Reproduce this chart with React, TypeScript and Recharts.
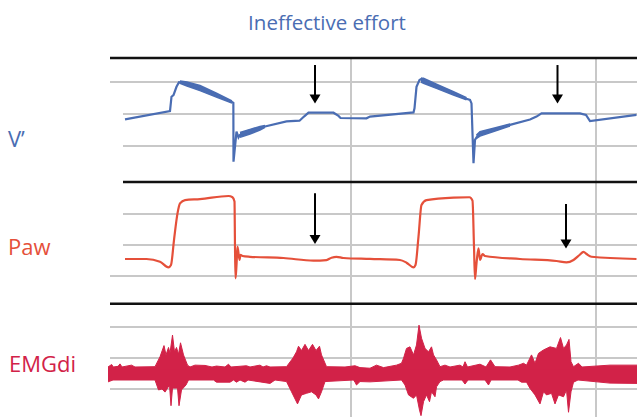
import React from 'react';
import { ComposedChart, Line, Area, XAxis, YAxis, ReferenceLine } from 'recharts';

// time in seconds, values in panel units
const flowPoints: [number, number][] = [
  [0.30, -0.17], [1.20, 0.09], [1.23, 0.54], [1.27, 0.59], [1.33, 0.85], [1.38, 0.99],
  [1.42, 0.98], [1.54, 0.94], [1.80, 0.81], [2.14, 0.58], [2.44, 0.375], [2.467, 0.35],
  [2.47, -1.49], [2.53, -0.55], [2.57, -0.73], [2.60, -0.655], [2.80, -0.55], [3.00, -0.445],
  [3.10, -0.39], [3.53, -0.23], [3.79, -0.21], [3.88, -0.08], [3.97, 0.04], [4.47, 0.04],
  [4.57, -0.06], [4.61, -0.125], [5.13, -0.135], [5.20, -0.08], [6.07, 0.05], [6.09, 0.18],
  [6.13, 0.85], [6.19, 1.06], [6.23, 1.10], [6.27, 1.04], [6.53, 0.865], [6.87, 0.645],
  [7.13, 0.475], [7.20, 0.44], [7.23, 0.33], [7.27, -1.54], [7.30, -0.81], [7.33, -0.73],
  [7.40, -0.62], [7.73, -0.47], [8.00, -0.34], [8.40, -0.17], [8.53, -0.08], [8.63, 0.02],
  [9.40, 0.02], [9.52, -0.03], [9.60, -0.22], [10.53, -0.03],
];

const flowBands: [number, number, number][][] = [
  [[1.40, 0.96, 1.03], [1.54, 0.875, 1.0], [1.80, 0.73, 0.89], [2.14, 0.52, 0.64], [2.44, 0.34, 0.41]],
  [[2.60, -0.73, -0.58], [2.80, -0.625, -0.48], [3.00, -0.50, -0.39], [3.10, -0.42, -0.36]],
  [[6.22, 1.0, 1.12], [6.27, 0.96, 1.115], [6.53, 0.80, 0.93], [6.87, 0.59, 0.70], [7.13, 0.44, 0.51]],
  [[7.33, -0.76, -0.66], [7.40, -0.69, -0.55], [7.73, -0.52, -0.42], [8.00, -0.375, -0.31]],
];

const pawPoints: [number, number][] = [
  [0.30, 5.48], [0.73, 5.48], [1.00, 4.6], [1.17, 2.8], [1.22, 3.55], [1.28, 11.6], [1.35, 20.2],
  [1.40, 23.4], [1.50, 24.5], [1.80, 24.8], [2.37, 25.8], [2.45, 25.4], [2.49, 24.0], [2.50, 9.5],
  [2.51, -0.75], [2.53, 3.5], [2.55, 9.5], [2.59, 5.2], [2.61, 6.8], [2.65, 6.45], [2.80, 6.2],
  [3.47, 5.8], [4.07, 4.95], [4.33, 5.15], [4.43, 5.9], [4.53, 6.2], [4.67, 5.8], [5.20, 5.5],
  [5.80, 5.16], [5.93, 4.3], [6.07, 2.8], [6.11, 3.55], [6.17, 12.7], [6.23, 22.9], [6.33, 24.5],
  [6.87, 25.3], [7.19, 25.4], [7.25, 24.3], [7.28, 9.5], [7.30, -0.97], [7.33, 4.1], [7.37, 8.9],
  [7.40, 5.2], [7.45, 7.1], [7.50, 6.45], [8.20, 5.48], [8.93, 4.84], [9.13, 4.4], [9.27, 5.16],
  [9.39, 6.77], [9.47, 7.8], [9.53, 7.1], [9.63, 6.2], [10.53, 5.48],
];

const emgUpper: [number, number][] = [
  [-0.04, 0.21], [0.033, 0.29], [0.067, 0.21], [0.16, 0.23], [0.2, 0.31], [0.24, 0.21], [0.43, 0.27],
  [0.5, 0.21], [0.9, 0.22], [1.0, 0.54], [1.08, 0.9], [1.12, 0.6], [1.17, 0.84], [1.2, 0.66],
  [1.25, 1.24], [1.29, 0.7], [1.33, 0.84], [1.37, 0.62], [1.41, 0.99], [1.47, 0.6], [1.55, 0.27],
  [1.6, 0.21], [1.7, 0.27], [1.9, 0.26], [2.04, 0.21], [2.13, 0.24], [2.3, 0.21], [2.37, 0.3],
  [2.42, 0.21], [2.73, 0.25], [2.8, 0.21], [3.0, 0.27], [3.06, 0.21], [3.13, 0.25], [3.2, 0.21],
  [3.53, 0.22], [3.66, 0.5], [3.73, 0.7], [3.77, 0.88], [3.83, 0.74], [3.9, 0.94], [3.97, 0.74],
  [4.05, 0.94], [4.12, 0.74], [4.19, 0.88], [4.23, 0.6], [4.33, 0.22], [4.7, 0.21], [4.9, 0.25],
  [5.0, 0.19], [5.2, 0.17], [5.33, 0.27], [5.47, 0.19], [5.73, 0.27], [5.83, 0.33], [5.87, 0.49],
  [5.93, 0.81], [6.0, 0.86], [6.07, 0.6], [6.13, 0.92], [6.18, 1.56], [6.23, 1.14], [6.3, 0.81],
  [6.37, 0.7], [6.43, 0.86], [6.47, 0.6], [6.53, 0.44], [6.6, 0.22], [6.7, 0.27], [6.8, 0.21],
  [7.0, 0.27], [7.06, 0.21], [7.1, 0.38], [7.15, 0.21], [7.4, 0.3], [7.52, 0.21], [7.61, 0.44],
  [7.7, 0.22], [8.0, 0.21], [8.17, 0.27], [8.27, 0.33], [8.33, 0.27], [8.43, 0.6], [8.5, 0.33],
  [8.57, 0.65], [8.67, 0.76], [8.8, 0.86], [8.93, 0.81], [9.01, 1.16], [9.07, 0.81], [9.13, 0.92],
  [9.18, 1.1], [9.22, 0.38], [9.27, 0.22], [9.37, 0.33], [9.44, 0.21], [10.0, 0.27], [10.4, 0.27],
  [10.54, 0.27],
];

const emgLower: [number, number][] = [
  [-0.04, -0.27], [0.06, -0.21], [0.9, -0.21], [0.97, -0.53], [1.04, -0.5], [1.1, -0.6], [1.19, -0.37],
  [1.22, -1.04], [1.25, -0.47], [1.35, -0.47], [1.38, -1.04], [1.43, -0.53], [1.52, -0.37],
  [1.57, -0.21], [2.07, -0.21], [2.13, -0.28], [2.4, -0.28], [2.47, -0.21], [2.53, -0.28],
  [2.6, -0.21], [2.7, -0.28], [2.76, -0.21], [3.2, -0.32], [3.3, -0.21], [3.53, -0.26],
  [3.63, -0.59], [3.75, -0.98], [3.83, -0.69], [3.93, -0.64], [4.03, -0.59], [4.12, -0.69],
  [4.17, -0.82], [4.23, -0.59], [4.3, -0.26], [4.87, -0.21], [4.9, -0.28], [4.93, -0.37],
  [5.0, -0.26], [5.2, -0.27], [5.83, -0.21], [5.9, -0.37], [5.97, -0.69], [6.07, -0.8],
  [6.13, -0.69], [6.19, -1.18], [6.22, -1.36], [6.27, -0.91], [6.33, -0.69], [6.39, -0.91],
  [6.43, -0.59], [6.5, -0.75], [6.53, -0.43], [6.6, -0.26], [6.67, -0.21], [7.04, -0.21],
  [7.1, -0.34], [7.16, -0.21], [7.5, -0.21], [7.57, -0.37], [7.62, -0.21], [8.16, -0.21],
  [8.23, -0.28], [8.33, -0.28], [8.4, -0.48], [8.5, -0.69], [8.6, -0.98], [8.67, -0.59],
  [8.73, -0.69], [8.83, -0.64], [8.9, -0.98], [8.97, -0.69], [9.07, -0.75], [9.13, -0.53],
  [9.17, -1.25], [9.22, -0.59], [9.27, -0.28], [9.36, -0.21], [10.0, -0.31], [10.54, -0.32],
];

const timeGrid = [4.82, 9.72];
const flowRows: [number, number][] = [[1, 0], [0, 0.26], [-1, 0.26]];
const pawRows: [number, number][] = [[20, 0.26], [10, 0.26], [0, 0]];
const emgRows: [number, number][] = [[1.5, 0], [0.5, 0], [-0.5, 0]];
const separators: { axis: string; v: number; from: number }[] = [
  { axis: 'flow', v: 1.75, from: 0 },
  { axis: 'paw', v: 30.3, from: 0.26 },
  { axis: 'emg', v: 2.25, from: 0 },
];
const arrows: { axis: string; t: number; from: number; to: number }[] = [
  { axis: 'flow', t: 4.1, from: 1.53, to: 0.33 },
  { axis: 'flow', t: 8.95, from: 1.53, to: 0.33 },
  { axis: 'paw', t: 4.1, from: 26.7, to: 10.3 },
  { axis: 'paw', t: 9.12, from: 23.2, to: 8.9 },
];

const T_START = -0.04;
const T_END = 10.54;
const BLUE = '#4a6db3';
const PAW = '#e5503a';
const EMG = '#d22248';
const GRID = '#c8c8c8';

const toXY = (arr: [number, number][]) => arr.map(([t, v]) => ({ t, v }));

const ArrowShape = (props: any) => {
  const { x1, y1, x2, y2 } = props;
  const hw = 5.5;
  const hl = 9;
  return (
    <g>
      <line x1={x1} y1={y1} x2={x2} y2={y2 - hl + 1} stroke="#000" strokeWidth={2} />
      <polygon points={`${x2 - hw},${y2 - hl} ${x2 + hw},${y2 - hl} ${x2},${y2}`} fill="#000" />
    </g>
  );
};

const MARGIN = { top: 58, right: 0, bottom: 0, left: 108 };

function axesFor() {
  return [
    <XAxis key="x" type="number" dataKey="t" domain={[T_START, T_END]} hide allowDataOverflow />,
    <YAxis key="yf" yAxisId="flow" type="number" domain={[-9.46875, 1.75]} hide allowDataOverflow />,
    <YAxis key="yp" yAxisId="paw" type="number" domain={[-45.4839, 70.3226]} hide allowDataOverflow />,
    <YAxis key="ye" yAxisId="emg" type="number" domain={[-1.4032, 10.1774]} hide allowDataOverflow />,
  ];
}

export default function App() {
  const font = '"Open Sans", "Noto Sans", sans-serif';
  const layer: React.CSSProperties = { position: 'absolute', left: 0, top: 0 };
  return (
    <div style={{ position: 'absolute', left: 0, top: 0, width: 637, height: 417, background: '#fff', overflow: 'hidden' }}>
      <div style={layer}>
        <ComposedChart width={637} height={417} margin={MARGIN}>
          {axesFor()}
          {timeGrid.map((t) => (
            <ReferenceLine key={'tg' + t} yAxisId="flow" x={t} stroke={GRID} strokeWidth={2} />
          ))}
          {flowRows.map(([v, from]) => (
            <ReferenceLine key={'fr' + v} yAxisId="flow" segment={[{ x: from, y: v }, { x: T_END, y: v }]} stroke={GRID} strokeWidth={2} />
          ))}
          {pawRows.map(([v, from]) => (
            <ReferenceLine key={'pr' + v} yAxisId="paw" segment={[{ x: from, y: v }, { x: T_END, y: v }]} stroke={GRID} strokeWidth={2} />
          ))}
          {emgRows.map(([v, from]) => (
            <ReferenceLine key={'er' + v} yAxisId="emg" segment={[{ x: from, y: v }, { x: T_END, y: v }]} stroke={GRID} strokeWidth={2} />
          ))}
        </ComposedChart>
      </div>
      <div style={layer}>
        <ComposedChart width={637} height={417} margin={MARGIN}>
          {axesFor()}
          {separators.map((s) => (
            <ReferenceLine key={'sep' + s.axis} yAxisId={s.axis} segment={[{ x: s.from, y: s.v }, { x: T_END, y: s.v }]} stroke="#111" strokeWidth={2.5} />
          ))}

          <Area yAxisId="emg" data={toXY(emgUpper)} dataKey="v" type="linear" baseValue={-0.12} fill={EMG} fillOpacity={1} stroke={EMG} strokeWidth={1} isAnimationActive={false} dot={false} activeDot={false} />
          <Area yAxisId="emg" data={toXY(emgLower)} dataKey="v" type="linear" baseValue={0.12} fill={EMG} fillOpacity={1} stroke={EMG} strokeWidth={1} isAnimationActive={false} dot={false} activeDot={false} />

          {flowBands.map((band, i) => (
            <Area key={'band' + i} yAxisId="flow" data={band.map(([t, lo, hi]) => ({ t, r: [lo, hi] }))} dataKey="r" type="linear" fill={BLUE} fillOpacity={1} stroke={BLUE} strokeWidth={1.5} isAnimationActive={false} dot={false} activeDot={false} />
          ))}
          <Line yAxisId="flow" data={toXY(flowPoints)} dataKey="v" type="linear" stroke={BLUE} strokeWidth={2.2} dot={false} activeDot={false} isAnimationActive={false} />
          <Line yAxisId="paw" data={toXY(pawPoints)} dataKey="v" type="monotone" stroke={PAW} strokeWidth={2.2} dot={false} activeDot={false} isAnimationActive={false} />

          {arrows.map((a, i) => (
            <ReferenceLine key={'ar' + i} yAxisId={a.axis} segment={[{ x: a.t, y: a.from }, { x: a.t, y: a.to }]} shape={ArrowShape} />
          ))}
        </ComposedChart>
      </div>
      <svg width={637} height={417} style={{ position: 'absolute', left: 0, top: 0, pointerEvents: 'none' }}>
        <text x={327} y={30} textAnchor="middle" fontFamily={font} fontSize={20.5} fill={BLUE}>Ineffective effort</text>
        <text x={8} y={147} fontFamily={font} fontSize={22} fill={BLUE}>V’</text>
        <text x={8} y={255} fontFamily={font} fontSize={22} fill={PAW}>Paw</text>
        <text x={9} y={372} fontFamily={font} fontSize={22} fill={EMG}>EMGdi</text>
      </svg>
    </div>
  );
}
